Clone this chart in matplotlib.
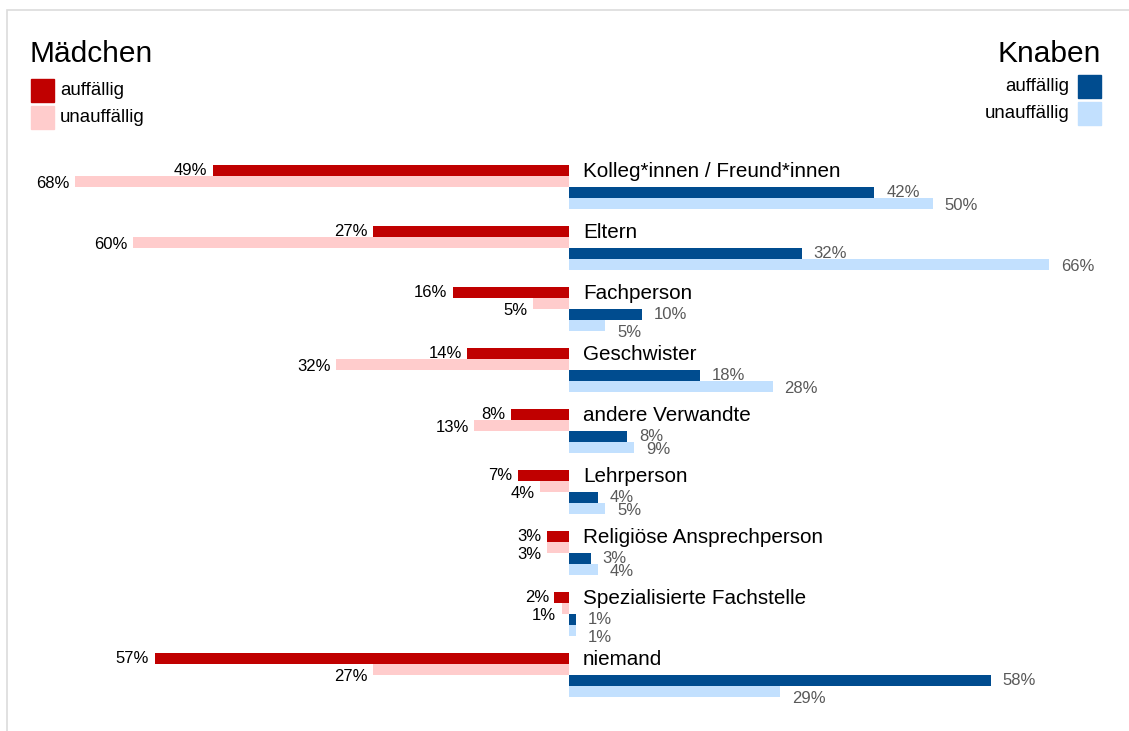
import matplotlib
matplotlib.use('Agg')
import matplotlib.pyplot as plt
from matplotlib.patches import Rectangle

plt.rcParams['font.family'] = ['Liberation Sans', 'DejaVu Sans']

categories = ['Kolleg*innen / Freund*innen', 'Eltern', 'Fachperson', 'Geschwister',
              'andere Verwandte', 'Lehrperson', 'Religiöse Ansprechperson',
              'Spezialisierte Fachstelle', 'niemand']
girls_auff = [49, 27, 16, 14, 8, 7, 3, 2, 57]
girls_unauff = [68, 60, 5, 32, 13, 4, 3, 1, 27]
boys_auff = [42, 32, 10, 18, 8, 4, 3, 1, 58]
boys_unauff = [50, 66, 5, 28, 9, 5, 4, 1, 29]

RED, PINK = '#C00000', '#FFCCCC'
BLUE, LBLUE = '#004C8F', '#C2E0FE'

W, H = 1129, 731
fig = plt.figure(figsize=(W / 100, H / 100), dpi=100)
ax = fig.add_axes([0, 0, 1, 1])
px = 7.27       # pixels per percent
cx = 569        # centre line in pixels
ax.set_xlim(-cx / px, (W - cx) / px)
ax.set_ylim(H, 0)
ax.axis('off')

# frame
fig.patches.append(Rectangle((7 / W, -0.1), 1.2, 1 - 10 / H + 0.1, transform=fig.transFigure,
                             fill=False, edgecolor='#DCDCDC', linewidth=1.2))

top0, step, bh = 165, 61, 10.9
series = [(girls_auff, -1, RED), (girls_unauff, -1, PINK),
          (boys_auff, 1, BLUE), (boys_unauff, 1, LBLUE)]

for i, cat in enumerate(categories):
    top = top0 + i * step
    for k, (vals, sign, col) in enumerate(series):
        yc = top + k * bh + bh / 2
        v = vals[i]
        ax.barh(yc, sign * v, height=bh, left=0, color=col, edgecolor='none')
        # second bar of a side: label pushed down when the bar above is as long
        dy = 0
        if k in (1, 3):
            dy = -5.4 if series[k - 1][0][i] >= v else -1.5
        if sign < 0:
            ax.annotate(f'{v}%', (-v, yc), xytext=(-4, dy), textcoords='offset points',
                        ha='right', va='center', fontsize=12, color='black')
        else:
            ax.annotate(f'{v}%', (v, yc), xytext=(8.5, dy), textcoords='offset points',
                        ha='left', va='center', fontsize=12, color='#595959')
    ax.text(14 / px, top + bh + 1, cat, ha='left', va='baseline', fontsize=14.9, color='black')

# headers / legends
fig.text(30 / W, 1 - 62 / H, 'Mädchen', ha='left', va='baseline', fontsize=21.5)
fig.text(1101 / W, 1 - 62 / H, 'Knaben', ha='right', va='baseline', fontsize=21.5)

sq = 23
for j, (lab, col) in enumerate([('auffällig', RED), ('unauffällig', PINK)]):
    y0 = 79 + j * 27
    fig.patches.append(Rectangle((31 / W, 1 - (y0 + sq) / H), sq / W, sq / H,
                                 transform=fig.transFigure, color=col))
    fig.text(60 / W, 1 - (y0 + sq / 2) / H, lab, ha='left', va='center', fontsize=13.4)

for j, (lab, col) in enumerate([('auffällig', BLUE), ('unauffällig', LBLUE)]):
    y0 = 75 + j * 27
    fig.patches.append(Rectangle((1078 / W, 1 - (y0 + sq) / H), sq / W, sq / H,
                                 transform=fig.transFigure, color=col))
    fig.text(1069 / W, 1 - (y0 + sq / 2) / H, lab, ha='right', va='center', fontsize=13.4)

fig.savefig('out.png', dpi=100)
